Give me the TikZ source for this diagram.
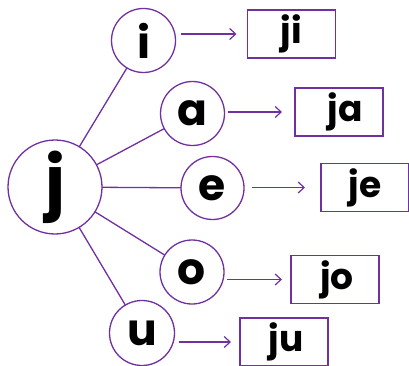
\documentclass[tikz,border=0pt]{standalone}
\usepackage{fontspec}
\setmainfont{Poppins}
\usetikzlibrary{arrows.meta}
\definecolor{pur}{HTML}{7030A0}
\begin{document}
\begin{tikzpicture}[x=1pt,y=-1pt,
  line width=1.3pt,
  circ/.style={circle,draw=pur,fill=white,inner sep=0pt,outer sep=0pt,minimum size=64pt,
    font=\fontsize{44}{44}\selectfont\bfseries},
  bigcirc/.style={circ,minimum size=94pt,font=\fontsize{68}{68}\selectfont\bfseries},
  res/.style={rectangle,draw=pur,inner sep=0pt,outer sep=0pt,minimum width=88pt,minimum height=48pt,
    font=\fontsize{36}{36}\selectfont\bfseries},
  link/.style={draw=pur},
  arr/.style={draw=pur,-{Straight Barb[length=6pt,width=11pt,line width=1.2pt]}}
]
\useasboundingbox (0,0) rectangle (409,366);
\node[bigcirc] (j) at (55,187) {j};
\node[circ] (i) at (143.5,40.5) {i};
\node[circ] (a) at (192.5,113.5) {a};
\node[circ,minimum size=63pt] (e) at (212.5,188) {e};
\node[circ] (o) at (192,272) {o};
\node[circ,minimum size=65pt] (u) at (142,333) {u};
\node[res] (ji) at (291.5,34) {ji};
\node[res] (ja) at (339,112) {\hspace*{12pt}ja};
\node[res] (je) at (365,187.5) {je};
\node[res] (jo) at (335,279.5) {\hspace*{4pt}jo};
\node[res] (ju) at (284,342) {\hspace*{4pt}ju};
\foreach \n in {i,a,e,o,u} \draw[link] (j) -- (\n);
\draw[arr,shorten <=5pt,shorten >=11pt] (i.east |- ji.west) -- (ji.west);
\draw[arr,shorten <=3pt,shorten >=13pt] (a.east |- ja.west) -- (ja.west);
\draw[arr,shorten <=8pt,shorten >=16pt] (e.east |- je.west) -- (je.west);
\draw[arr,shorten <=3pt,shorten >=9pt] (o.east |- jo.west) -- (jo.west);
\draw[arr,shorten <=4pt,shorten >=9pt] (u.east |- ju.west) -- (ju.west);
\end{tikzpicture}
\end{document}
